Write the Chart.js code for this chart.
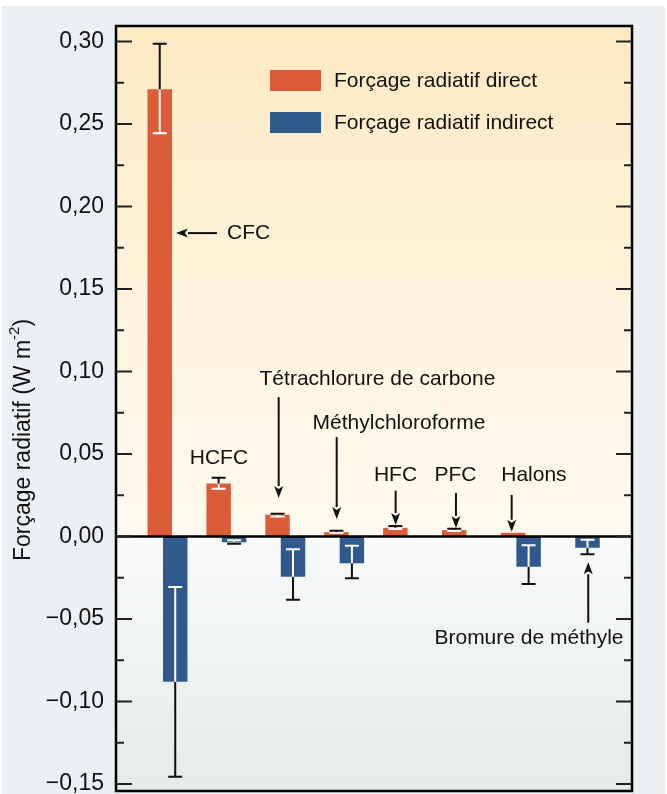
<!DOCTYPE html>
<html>
<head>
<meta charset="utf-8">
<script src="https://cdn.jsdelivr.net/npm/chart.js@4.4.1/dist/chart.umd.min.js"></script>
<style>
  html, body { margin: 0; padding: 0; background: #fff; }
  #wrap { width: 667px; height: 794px; }
</style>
</head>
<body>
<div id="wrap"><canvas id="graphique" width="667" height="794"></canvas></div>
<script>
const categories = ["CFC", "HCFC", "Tétrachlorure de carbone", "Méthylchloroforme", "HFC", "PFC", "Halons", "Bromure de méthyle"];

// forçage direct (W m-2) et bornes de l'incertitude
const directValues = [0.271, 0.0322, 0.0132, 0.0027, 0.0053, 0.0039, 0.0023, null];
const directLow    = [0.2444, 0.029, 0.0122, 0.0023, 0.0045, 0.0033, null, null];
const directHigh   = [0.2986, 0.0356, 0.0138, 0.0035, 0.0064, 0.0047, null, null];

// forçage indirect
const indirectValues = [-0.088, -0.0035, -0.0244, -0.0162, null, null, -0.0183, -0.0068];
const indirectLow    = [-0.1456, -0.0043, -0.0383, -0.0253, null, null, -0.0288, -0.0108];
const indirectHigh   = [-0.0306, -0.0023, -0.0077, -0.0056, null, null, -0.0053, -0.0019];

const yTicks = [-0.15, -0.10, -0.05, 0, 0.05, 0.10, 0.15, 0.20, 0.25, 0.30];

const legendLabels = ["Forçage radiatif direct", "Forçage radiatif indirect"];
const couleurDirect = "#dc5b39";
const couleurIndirect = "#2f5a8b";

// étiquettes placées en coordonnées des axes (x = rang de catégorie, y = valeur)
const etiquettes = [
  { texte: "CFC", x: 1.01, y: 0.1839, align: "left" },
  { texte: "HCFC", x: 0.874, y: 0.0476, align: "center" },
  { texte: "Tétrachlorure de carbone", x: 3.565, y: 0.0955, align: "center" },
  { texte: "Méthylchloroforme", x: 3.93, y: 0.0688, align: "center" },
  { texte: "HFC", x: 3.871, y: 0.0373, align: "center" },
  { texte: "PFC", x: 4.89, y: 0.0373, align: "center" },
  { texte: "Halons", x: 6.222, y: 0.0373, align: "center" },
  { texte: "Bromure de méthyle", x: 6.138, y: -0.0617, align: "center" }
];
const fleches = [
  { x1: 0.84, y1: 0.1839, x2: 0.144, y2: 0.1839 },
  { x1: 1.888, y1: 0.0845, x2: 1.888, y2: 0.0233 },
  { x1: 2.873, y1: 0.0603, x2: 2.873, y2: 0.0106 },
  { x1: 3.874, y1: 0.0278, x2: 3.874, y2: 0.0070 },
  { x1: 4.898, y1: 0.0264, x2: 4.898, y2: 0.0052 },
  { x1: 5.844, y1: 0.0252, x2: 5.844, y2: 0.0029 },
  { x1: 7.144, y1: -0.0522, x2: 7.144, y2: -0.0156 }
];

const police = '"Liberation Sans", Arial, Helvetica, sans-serif';

const fond = {
  id: "fond",
  beforeDraw(chart) {
    const ctx = chart.ctx;
    const a = chart.chartArea;
    const y0 = chart.scales.y.getPixelForValue(0);
    ctx.save();
    ctx.fillStyle = "#ffffff";
    ctx.fillRect(0, 0, chart.width, chart.height);
    ctx.fillStyle = "#edf0f3";
    ctx.fillRect(2, 6, 663, chart.height - 6);

    let g = ctx.createLinearGradient(0, a.top, 0, y0);
    g.addColorStop(0, "#fdeac3");
    g.addColorStop(1, "#fffaf0");
    ctx.fillStyle = g;
    ctx.fillRect(a.left, a.top, a.right - a.left, y0 - a.top);

    g = ctx.createLinearGradient(0, y0, 0, a.bottom);
    g.addColorStop(0, "#f8fafa");
    g.addColorStop(1, "#e5ebe8");
    ctx.fillStyle = g;
    ctx.fillRect(a.left, y0, a.right - a.left, a.bottom - y0);
    ctx.restore();
  }
};

function fleche(ctx, x1, y1, x2, y2) {
  const ang = Math.atan2(y2 - y1, x2 - x1);
  const long = 12, demi = 4.5;
  const bx = x2 - Math.cos(ang) * long;
  const by = y2 - Math.sin(ang) * long;
  ctx.beginPath();
  ctx.moveTo(x1, y1);
  ctx.lineTo(bx, by);
  ctx.stroke();
  ctx.beginPath();
  ctx.moveTo(x2, y2);
  ctx.lineTo(bx + Math.sin(ang) * demi, by - Math.cos(ang) * demi);
  ctx.lineTo(bx + Math.cos(ang) * 3, by + Math.sin(ang) * 3);
  ctx.lineTo(bx - Math.sin(ang) * demi, by + Math.cos(ang) * demi);
  ctx.closePath();
  ctx.fill();
}

const decor = {
  id: "decor",
  afterDatasetsDraw(chart) {
    const ctx = chart.ctx;
    const a = chart.chartArea;
    const sx = chart.scales.x;
    const sy = chart.scales.y;
    const y0 = sy.getPixelForValue(0);
    ctx.save();

    // barres d'erreur : blanches dans la barre, noires au-dehors
    chart.data.datasets.forEach((ds, d) => {
      const meta = chart.getDatasetMeta(d);
      meta.data.forEach((bar, i) => {
        const v = ds.data[i].y;
        if (v === null) return;
        const pv = sy.getPixelForValue(v);
        [ds.low[i], ds.high[i]].forEach(e => {
          if (e === null) return;
          const pe = sy.getPixelForValue(e);
          const dedans = (pe - pv) * (y0 - pv) > 0;
          ctx.strokeStyle = dedans ? "#ffffff" : "#111111";
          ctx.lineWidth = 2;
          ctx.beginPath();
          ctx.moveTo(bar.x, pv);
          ctx.lineTo(bar.x, pe);
          ctx.moveTo(bar.x - 7, pe);
          ctx.lineTo(bar.x + 7, pe);
          ctx.stroke();
        });
      });
    });

    // ligne du zéro
    ctx.strokeStyle = "#000";
    ctx.lineWidth = 2.5;
    ctx.beginPath();
    ctx.moveTo(a.left, y0);
    ctx.lineTo(a.right, y0);
    ctx.stroke();

    // graduations intérieures, des deux côtés
    ctx.strokeStyle = "#222";
    ctx.lineWidth = 2;
    yTicks.forEach(t => {
      [t, t + 0.025].forEach((v, k) => {
        if (v > sy.max || v < sy.min) return;
        const p = sy.getPixelForValue(v);
        const l = k === 0 ? 16 : 8;
        ctx.beginPath();
        ctx.moveTo(a.left, p);
        ctx.lineTo(a.left + l, p);
        ctx.moveTo(a.right, p);
        ctx.lineTo(a.right - l, p);
        ctx.stroke();
      });
    });

    // cadre
    ctx.strokeStyle = "#000";
    ctx.lineWidth = 2.5;
    ctx.strokeRect(a.left, a.top, a.right - a.left, a.bottom - a.top);

    // légende
    ctx.font = "21px " + police;
    ctx.textBaseline = "middle";
    ctx.textAlign = "left";
    chart.data.datasets.forEach((ds, d) => {
      const yy = 70 + d * 42;
      ctx.fillStyle = ds.backgroundColor;
      ctx.fillRect(270, yy, 51, 21);
      ctx.fillStyle = "#111";
      ctx.fillText(ds.label, 334, yy + 11);
    });

    // étiquettes et flèches
    ctx.fillStyle = "#111";
    ctx.strokeStyle = "#111";
    ctx.lineWidth = 2;
    etiquettes.forEach(e => {
      ctx.textAlign = e.align;
      ctx.fillText(e.texte, sx.getPixelForValue(e.x), sy.getPixelForValue(e.y));
    });
    fleches.forEach(f => {
      fleche(ctx, sx.getPixelForValue(f.x1), sy.getPixelForValue(f.y1),
                  sx.getPixelForValue(f.x2), sy.getPixelForValue(f.y2));
    });

    // titre de l'axe vertical avec exposant
    ctx.translate(24, 440);
    ctx.rotate(-Math.PI / 2);
    const t1 = "Forçage radiatif (W m", t2 = "-2", t3 = ")";
    ctx.font = "23px " + police;
    const w1 = ctx.measureText(t1).width, w3 = ctx.measureText(t3).width;
    ctx.font = "15px " + police;
    const w2 = ctx.measureText(t2).width;
    let x = -(w1 + w2 + w3) / 2;
    ctx.textAlign = "left";
    ctx.font = "23px " + police;
    ctx.fillText(t1, x, 0);
    ctx.font = "15px " + police;
    ctx.fillText(t2, x + w1, -9);
    ctx.font = "23px " + police;
    ctx.fillText(t3, x + w1 + w2, 0);
    ctx.restore();
  }
};

const formatTick = v => (v < -1e-9 ? "−" : "") + Math.abs(v).toFixed(2).replace(".", ",");

new Chart(document.getElementById("graphique"), {
  type: "bar",
  data: {
    labels: categories,
    datasets: [
      {
        label: legendLabels[0],
        data: directValues.map((v, i) => ({ x: i, y: v })),
        low: directLow,
        high: directHigh,
        backgroundColor: couleurDirect
      },
      {
        label: legendLabels[1],
        data: indirectValues.map((v, i) => ({ x: i, y: v })),
        low: indirectLow,
        high: indirectHigh,
        backgroundColor: couleurIndirect
      }
    ]
  },
  options: {
    responsive: false,
    animation: false,
    events: [],
    categoryPercentage: 0.526,
    barPercentage: 1.58,
    layout: { padding: { top: 26, right: 35, bottom: 3, left: 0 } },
    plugins: { legend: { display: false }, tooltip: { enabled: false } },
    scales: {
      x: {
        type: "linear",
        offset: false,
        min: -0.874,
        max: 7.887,
        display: false,
        afterBuildTicks: s => { s.ticks = categories.map((c, i) => ({ value: i })); }
      },
      y: {
        min: -0.1542,
        max: 0.3094,
        grid: { display: false, drawTicks: false },
        border: { display: false },
        afterBuildTicks: s => { s.ticks = yTicks.map(v => ({ value: v })); },
        afterFit: s => { s.width = 116; s.paddingTop = 0; s.paddingBottom = 0; },
        ticks: {
          padding: 12,
          color: "#111",
          font: { family: police, size: 23 },
          callback: formatTick
        }
      }
    }
  },
  plugins: [fond, decor]
});
</script>
</body>
</html>
